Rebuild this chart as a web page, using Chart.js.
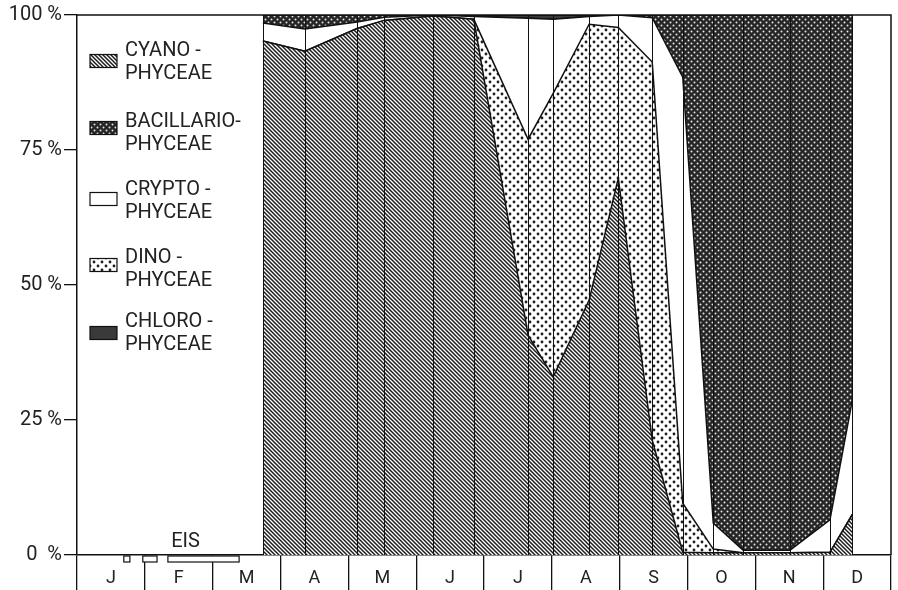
<!DOCTYPE html>
<html>
<head>
<meta charset="utf-8">
<script src="https://cdn.jsdelivr.net/npm/chart.js@4.4.1/dist/chart.umd.min.js"></script>
<style>
  html, body { margin: 0; padding: 0; background: #fff; }
  #wrap { width: 898px; height: 590px; }
</style>
</head>
<body>
<div id="wrap"><canvas id="phytoChart" width="898" height="590"></canvas></div>
<script>
// sampling dates in months from 1 January (0 = start of J, 12 = end of D)
const sampleMonths = [2.74, 3.36, 4.13, 4.53, 5.25, 5.85, 6.65, 7.02, 7.55, 7.98, 8.48, 8.93, 9.38, 9.82, 10.51, 11.10, 11.43];

// share of each algal class in %, per sampling date
const cyano      = [95.2, 93.3, 97.5, 99.0, 99.8, 99.2, 40.7, 33.0, 47.2, 69.8, 21.3, 0.5, 0.4, 0.4, 0.4, 0.5, 7.5];
const dino       = [0, 0, 0, 0, 0, 0, 36.3, 52.5, 51.1, 27.9, 70.0, 9.1, 0.7, 0, 0, 0, 0];
const crypto     = [3.3, 4.1, 1.2, 0.6, 0.2, 0.5, 22.4, 13.7, 1.4, 2.3, 8.2, 78.9, 4.8, 0.5, 0.5, 6.0, 21.2];
const bacillario = [1.5, 2.6, 1.3, 0.4, 0, 0, 0, 0, 0, 0, 0.5, 11.5, 94.1, 99.1, 99.1, 93.5, 71.3];
const chloro     = [0, 0, 0, 0, 0, 0.3, 0.6, 0.8, 0.3, 0, 0, 0, 0, 0, 0, 0, 0];

const monthLabels = ['J', 'F', 'M', 'A', 'M', 'J', 'J', 'A', 'S', 'O', 'N', 'D'];
const yTicks = [0, 25, 50, 75, 100];
const yTickLabels = ['0  %', '25 %', '50 %', '75 %', '100 %'];

// ice cover (EIS) in months
const iceFrom = [0.69, 0.97, 1.34];
const iceTo   = [0.78, 1.18, 2.39];

const canvas = document.getElementById('phytoChart');
const mainCtx = canvas.getContext('2d');

function makePattern(size, draw) {
  const c = document.createElement('canvas');
  c.width = size; c.height = size;
  const g = c.getContext('2d');
  draw(g, size);
  return mainCtx.createPattern(c, 'repeat');
}

function dots(g, pts, r) {
  pts.forEach(([x, y]) => { g.beginPath(); g.arc(x, y, r, 0, Math.PI * 2); g.fill(); });
}

// fill patterns like the original print
const hatch = makePattern(4, (g, s) => {
  g.fillStyle = '#fff'; g.fillRect(0, 0, s, s);
  g.strokeStyle = '#1c1c1c'; g.lineWidth = 1.5;
  g.beginPath();
  g.moveTo(-1, -1); g.lineTo(s + 1, s + 1);
  g.moveTo(-1, s - 1); g.lineTo(1, s + 1);
  g.moveTo(s - 1, -1); g.lineTo(s + 1, 1);
  g.stroke();
});
const lightDots = makePattern(8, (g, s) => {
  g.fillStyle = '#fff'; g.fillRect(0, 0, s, s);
  g.fillStyle = '#1e1e1e';
  dots(g, [[2, 2], [6, 6]], 1.4);
});
const darkDots = makePattern(6, (g, s) => {
  g.fillStyle = '#262626'; g.fillRect(0, 0, s, s);
  g.fillStyle = '#e4e4e4';
  dots(g, [[1.5, 1.5], [4.5, 4.5]], 1.0);
});
const solidDark = '#3a3a3a';

function layer(label, values, bg, fill) {
  return {
    label,
    data: values.map((v, i) => ({ x: sampleMonths[i], y: v })),
    backgroundColor: bg,
    borderColor: '#111',
    borderWidth: 1.5,
    fill,
    pointRadius: 0,
    tension: 0,
    xAxisID: 'x',
    yAxisID: 'y'
  };
}

const legendItems = [
  { lines: ['CYANO -', 'PHYCEAE'], fill: hatch, top: 51, box: 61 },
  { lines: ['BACILLARIO-', 'PHYCEAE'], fill: darkDots, top: 122, box: 128 },
  { lines: ['CRYPTO -', 'PHYCEAE'], fill: '#fff', top: 190, box: 199 },
  { lines: ['DINO -', 'PHYCEAE'], fill: lightDots, top: 258, box: 265 },
  { lines: ['CHLORO -', 'PHYCEAE'], fill: solidDark, top: 322, box: 333 }
];

// vertical lines at each sampling date, frame, ice bars and legend
const extras = {
  id: 'extras',
  afterDatasetsDraw(chart) {
    const { ctx, scales: { x, y } } = chart;
    ctx.save();
    ctx.strokeStyle = '#111';
    ctx.lineWidth = 1;
    sampleMonths.forEach(m => {
      const px = Math.round(x.getPixelForValue(m)) + 0.5;
      ctx.beginPath();
      ctx.moveTo(px, y.getPixelForValue(0));
      ctx.lineTo(px, y.getPixelForValue(100));
      ctx.stroke();
    });
    ctx.restore();
  },
  afterDraw(chart) {
    const { ctx, chartArea: a, scales: { x, y } } = chart;
    ctx.save();
    ctx.strokeStyle = '#111';
    ctx.lineWidth = 1.5;
    ctx.beginPath();
    ctx.moveTo(a.left, a.top);
    ctx.lineTo(a.right, a.top);
    ctx.lineTo(a.right, a.bottom);
    ctx.stroke();

    // ice cover bars below the axis
    ctx.lineWidth = 1.2;
    iceFrom.forEach((f, i) => {
      const x0 = x.getPixelForValue(f), x1 = x.getPixelForValue(iceTo[i]);
      ctx.fillStyle = '#fff';
      ctx.fillRect(x0, a.bottom + 1, x1 - x0, 6);
      ctx.strokeRect(x0, a.bottom + 1, x1 - x0, 6);
    });
    ctx.fillStyle = '#222';
    ctx.font = '20px Roboto';
    ctx.textAlign = 'center';
    ctx.textBaseline = 'middle';
    ctx.fillText('EIS', x.getPixelForValue(1.6), y.getPixelForValue(2.4));

    // legend
    ctx.font = '20px Roboto';
    ctx.textAlign = 'left';
    legendItems.forEach(it => {
      ctx.fillStyle = it.fill;
      ctx.fillRect(a.left + 13, it.box - 6.5, 27, 13);
      ctx.lineWidth = 1.2;
      ctx.strokeRect(a.left + 13, it.box - 6.5, 27, 13);
      ctx.fillStyle = '#222';
      ctx.fillText(it.lines[0], a.left + 48, it.top);
      ctx.fillText(it.lines[1], a.left + 48, it.top + 23);
    });
    ctx.restore();
  }
};

new Chart(canvas, {
  type: 'line',
  data: {
    datasets: [
      layer('CYANOPHYCEAE', cyano, hatch, 'origin'),
      layer('DINOPHYCEAE', dino, lightDots, '-1'),
      layer('CRYPTOPHYCEAE', crypto, '#fff', '-1'),
      layer('BACILLARIOPHYCEAE', bacillario, darkDots, '-1'),
      layer('CHLOROPHYCEAE', chloro, solidDark, '-1')
    ]
  },
  options: {
    responsive: false,
    animation: false,
    devicePixelRatio: 1,
    layout: { padding: { top: 15, right: 7, left: 0, bottom: 0 } },
    plugins: { legend: { display: false }, tooltip: { enabled: false } },
    scales: {
      x: { type: 'linear', min: 0, max: 12, display: false },
      m: {
        type: 'category',
        labels: monthLabels,
        position: 'bottom',
        offset: true,
        grid: { offset: true, drawOnChartArea: false, tickLength: 35, color: '#111', lineWidth: 1.3 },
        border: { display: true, color: '#111', width: 1.5 },
        ticks: { padding: -22, color: '#222', font: { family: 'Roboto', size: 18 } },
        afterFit: s => { s.height = 35; }
      },
      y: {
        stacked: true,
        min: 0,
        max: 100,
        afterBuildTicks: s => { s.ticks = yTicks.map(v => ({ value: v })); },
        grid: { drawOnChartArea: false, tickLength: 13, color: '#111', lineWidth: 1.3 },
        border: { display: true, color: '#111', width: 1.5 },
        ticks: {
          padding: 2,
          color: '#222',
          font: { family: 'Roboto', size: 20 },
          callback: v => yTickLabels[yTicks.indexOf(v)]
        },
        afterFit: s => { s.width = 77; }
      }
    }
  },
  plugins: [extras]
});
</script>
</body>
</html>
